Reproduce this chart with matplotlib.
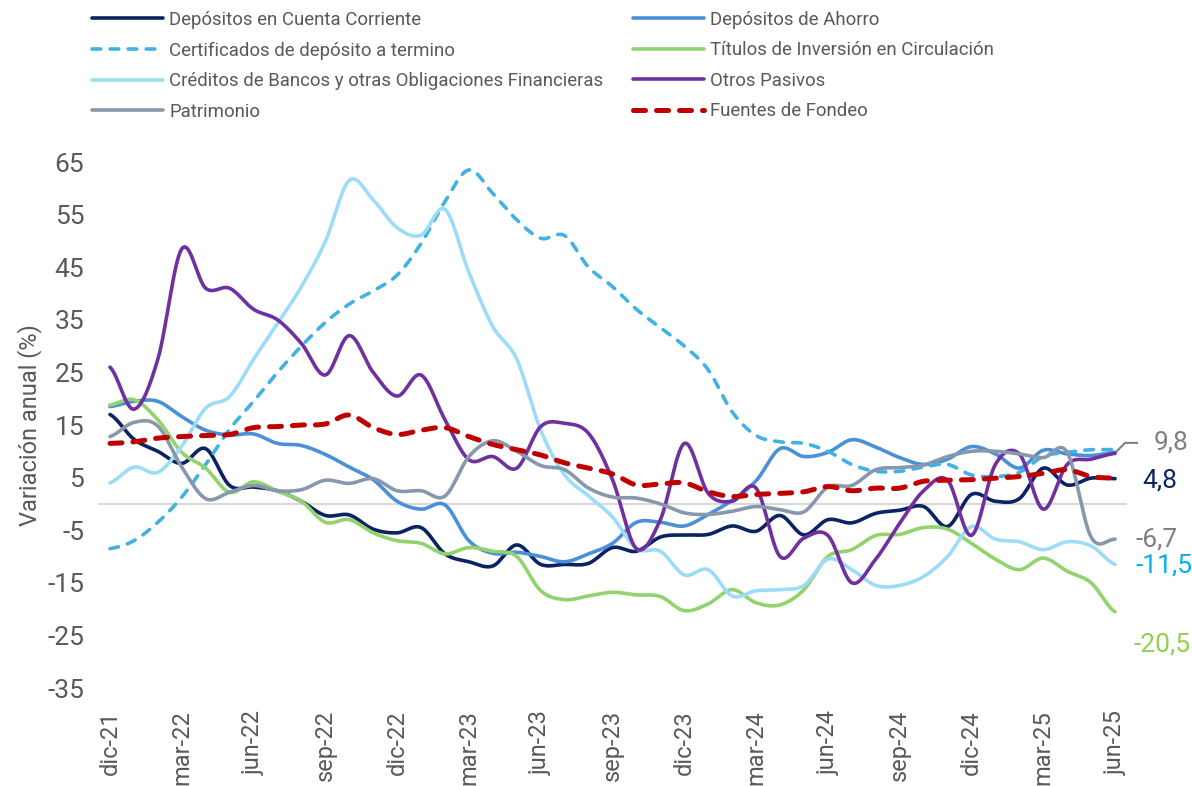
import numpy as np
import matplotlib
matplotlib.use("Agg")
import matplotlib.pyplot as plt
from matplotlib.lines import Line2D

plt.rcParams['font.family'] = ['Roboto', 'DejaVu Sans']
plt.rcParams['axes.unicode_minus'] = False

# ---------------- data (monthly, dic-21 .. jun-25) ----------------
tick_labels = ['dic-21', 'mar-22', 'jun-22', 'sep-22', 'dic-22', 'mar-23', 'jun-23',
               'sep-23', 'dic-23', 'mar-24', 'jun-24', 'sep-24', 'dic-24', 'mar-25', 'jun-25']

cuenta_corriente = [17, 12.3, 10, 7.7, 10.5, 3.5, 3.2, 2.5, 0.5, -2.2, -2.1, -4.8, -5.5, -4.5,
                    -9.5, -11, -11.8, -7.8, -11.5, -11.5, -11.3, -8.3, -9, -6.3, -5.9, -5.8,
                    -4.2, -5.2, -2.2, -5.9, -3, -3.6, -1.8, -1.2, -0.5, -4.3, 1.8, 0.5, 1,
                    6.8, 3.6, 4.9, 4.8]
ahorro = [18.5, 19.5, 19.5, 16.6, 14, 13.1, 13.3, 11.5, 11.1, 9.4, 7, 4.6, 0.5, -1.0, -0.2,
          -7, -9.4, -9.2, -10, -11, -9.5, -7.5, -3.5, -3.5, -4.2, -2, 0.7, 4.4, 10.5, 9,
          9.8, 12.2, 10.8, 8.8, 7.5, 8.5, 10.9, 9.5, 6.8, 10.2, 9.5, 9.2, 9.8]
certificados = [-8.5, -7, -3.5, 1.3, 7.5, 14.2, 19.5, 25, 30, 34.5, 38, 40.5, 43.5, 49.5,
                57.5, 63.5, 59, 54, 50.5, 51, 45, 41.3, 37, 33.5, 30, 25.5, 17.5, 13, 11.8,
                11.5, 10, 7.5, 6.2, 6.2, 7, 7.5, 5.5, 5.2, 6, 9, 9.8, 10.3, 10.3]
titulos = [18.8, 19.8, 16, 9.8, 6.8, 2.2, 4.2, 2.4, 0.5, -3.5, -3, -5.5, -7, -7.5, -9.5,
           -8.3, -9, -10, -16.5, -18.2, -17.5, -16.8, -17.3, -17.6, -20.3, -19, -16.3,
           -18.8, -19.2, -16.3, -10, -8.7, -6, -5.8, -4.5, -4.8, -7.5, -10.5, -12.5,
           -10.3, -12.8, -15, -20.5]
creditos = [4, 7, 6, 11, 18.2, 20.4, 27.5, 34.3, 41.3, 49.9, 61.5, 57.8, 52.5, 51.1, 56,
            44, 33.7, 27.5, 14, 5.5, 1.5, -2.5, -8.5, -9, -13.5, -12.5, -17.5, -16.5,
            -16.3, -15.5, -10.5, -12.5, -15.5, -15.5, -13.8, -10, -4.3, -6.7, -7.2, -8.7,
            -7.2, -8, -11.5]
otros_pasivos = [26, 18, 27.5, 48.5, 41, 41, 37, 35, 30.5, 24.5, 32, 25, 20.5, 24.5, 16, 8.4,
                 9, 6.8, 14.7, 15.3, 13.4, 4.6, -8.5, -3, 11.5, 2, 0.5, 3, -10, -6.5, -6,
                 -15, -10.5, -3.7, 2.5, 4.5, -6, 7.5, 9.5, -1, 7.5, 8.5, 9.6]
patrimonio = [12.8, 15.5, 14.8, 7, 1, 2.2, 3.5, 2.5, 2.7, 4.5, 3.9, 4.8, 2.5, 2.5, 1.5, 9,
              12, 10, 7.3, 6.5, 3, 1.3, 1.1, 0, -1.7, -2, -1.4, -0.5, -1.1, -1.5, 3.2, 3.5,
              6.5, 6.9, 7.4, 9, 10, 10, 9.5, 8.8, 9.8, -6.3, -6.7]
fuentes = [11.5, 11.8, 12.5, 12.8, 13, 13.2, 14.5, 14.7, 15, 15.2, 16.9, 14.5, 13.2, 14,
           14.5, 12.8, 11.3, 10.3, 9.3, 7.8, 6.8, 5.7, 3.6, 3.8, 4, 2.3, 1.4, 1.8, 2, 2.3,
           3.3, 2.5, 3, 3, 4.3, 4.5, 4.6, 4.9, 5.2, 5.8, 6.5, 5.2, 4.9]

series_names = ['Depósitos en Cuenta Corriente', 'Depósitos de Ahorro',
                'Certificados de depósito a termino', 'Títulos de Inversión en Circulación',
                'Créditos de Bancos y otras Obligaciones Financieras', 'Otros Pasivos',
                'Patrimonio', 'Fuentes de Fondeo']

end_label_values = ['9,8', '4,8', '-6,7', '-11,5', '-20,5']

# ---------------- styles ----------------
styles = [
    dict(color='#0b2263', lw=2.6),
    dict(color='#4a90d9', lw=2.6),
    dict(color='#41b2e3', lw=2.6, dashes=(2.4, 2.6)),
    dict(color='#92d36e', lw=2.6),
    dict(color='#9ddcf9', lw=2.6),
    dict(color='#7030a0', lw=2.6),
    dict(color='#8798ad', lw=2.6),
    dict(color='#c00000', lw=3.6, dashes=(2.4, 2.2)),
]


def smooth(vals, n=16):
    """Catmull-Rom rendering of the monthly points (Excel-like smoothed line)."""
    y = np.asarray(vals, float)
    p = np.concatenate([[y[0]], y, [y[-1]]])
    xs, ys = [], []
    t = np.linspace(0, 1, n, endpoint=False)
    for i in range(len(y) - 1):
        p0, p1, p2, p3 = p[i], p[i + 1], p[i + 2], p[i + 3]
        m1 = (p2 - p0) / 2.0
        m2 = (p3 - p1) / 2.0
        h00 = 2 * t**3 - 3 * t**2 + 1
        h10 = t**3 - 2 * t**2 + t
        h01 = -2 * t**3 + 3 * t**2
        h11 = t**3 - t**2
        xs.append(i + t)
        ys.append(h00 * p1 + h10 * m1 + h01 * p2 + h11 * m2)
    xs.append([len(y) - 1])
    ys.append([y[-1]])
    return np.concatenate(xs), np.concatenate(ys)


fig = plt.figure(figsize=(11.92, 7.86), dpi=100)
W, H = 1192, 786
ax = fig.add_axes([98 / W, 1 - 688 / H, (1127 - 98) / W, (688 - 162) / H])

all_series = [cuenta_corriente, ahorro, certificados, titulos, creditos,
              otros_pasivos, patrimonio, fuentes]

ax.axhline(0, color='#d9d9d9', lw=1.5, zorder=1)

handles = []
for name, vals, st in zip(series_names, all_series, styles):
    xs, ys = smooth(vals)
    kw = dict(color=st['color'], lw=st['lw'], solid_capstyle='round',
              dash_capstyle='round', zorder=3)
    line, = ax.plot(xs, ys, **kw)
    if 'dashes' in st:
        line.set_dashes(st['dashes'])
    h = Line2D([], [], **kw)
    if 'dashes' in st:
        h.set_dashes(st['dashes'])
    handles.append((h, name))

ax.set_xlim(-0.5, 42.5)
ax.set_ylim(-35, 65)
ax.set_yticks(np.arange(-35, 66, 10))
ax.set_xticks(np.arange(0, 43, 3))
ax.set_xticklabels(tick_labels, rotation=90, va='top', ha='center')
ax.tick_params(axis='x', length=0, pad=16, labelsize=17, labelcolor='#595959')
ax.tick_params(axis='y', length=0, pad=10, labelsize=19, labelcolor='#595959')
for s in ax.spines.values():
    s.set_visible(False)
ax.set_ylabel('Variación anual (%)', fontsize=17, color='#595959', labelpad=4)

# end-of-series labels
last = len(cuenta_corriente) - 1
ax.plot([last, last + 0.42, last + 0.92], [9.7, 11.6, 11.6], color='#7f7f7f', lw=1.5,
        clip_on=False, zorder=2)
lab_specs = [
    (end_label_values[0], last + 1.6, 11.6, '#7f7f7f'),
    (end_label_values[1], last + 1.12, 4.4, '#0b2263'),
    (end_label_values[2], last + 0.84, -6.8, '#7f7f7f'),
    (end_label_values[3], last + 0.84, -11.8, '#00b0f0'),
    (end_label_values[4], last + 0.76, -26.8, '#92d050'),
]
for txt, x, y, c in lab_specs:
    ax.text(x, y, txt, color=c, fontsize=19, ha='left', va='center', clip_on=False)

# legend: two columns, row-major order
col1 = handles[0::2]
col2 = handles[1::2]
leg_kw = dict(frameon=False, fontsize=13.4, handlelength=3.8, handletextpad=0.35,
              labelspacing=0.67, borderpad=0, borderaxespad=0, loc='upper left',
              labelcolor='#595959')
leg1 = fig.legend([h for h, _ in col1], [n for _, n in col1],
                  bbox_to_anchor=(92 / W, 1 - 11 / H), **leg_kw)
leg2 = fig.legend([h for h, _ in col2], [n for _, n in col2],
                  bbox_to_anchor=(633 / W, 1 - 11 / H), **leg_kw)

fig.savefig('out.png', dpi=100)
